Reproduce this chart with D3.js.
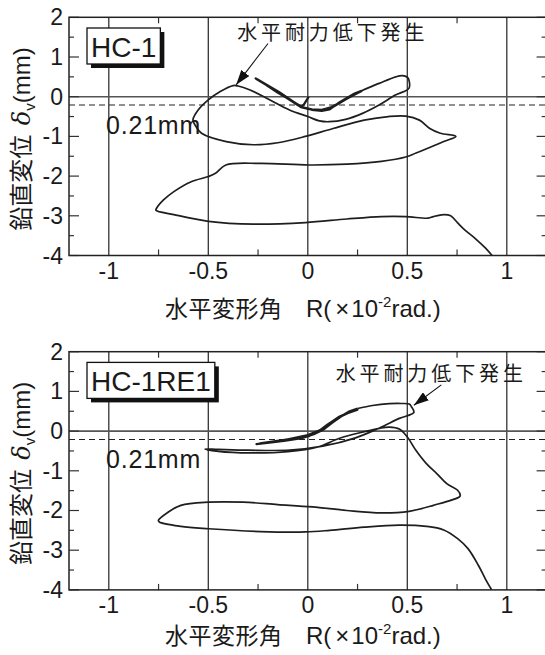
<!DOCTYPE html>
<meta charset="utf-8">
<script src="https://d3js.org/d3.v7.min.js"></script>
<style>
  body { margin: 0; background: #fff; }
  text { font-family: "Liberation Sans", Arial, "Noto Sans CJK JP", sans-serif; fill: #1a1a1a; }
  .jp { font-family: "Noto Sans CJK JP", "Liberation Sans", sans-serif; }
</style>
<div id="chart"></div>
<script>
// ---- data ----
var xTicks = [-1, -0.5, 0, 0.5, 1];
var xMinorTicks = [-0.75, -0.25, 0.25, 0.75];
var yTicks = [-4, -3, -2, -1, 0, 1, 2];
var yMinorTicks = [-3.5, -2.5, -1.5, -0.5, 0.5, 1.5];
var limitDisp = -0.21;

var panelNames = ["HC-1", "HC-1RE1"];

// small cycles (+-0.25) of HC-1, drawn thick
var hc1Small = [[0.005,0],[-0.02,-0.2],[-0.035,-0.26],[-0.15,0.11],[-0.262,0.46],[-0.15,0.115],
  [-0.03,-0.26],[0,-0.31],[0.05,-0.34],[0.1,-0.31],[0.16,-0.15],[0.235,0.07],[0.27,0.14],
  [0.2,-0.04],[0.13,-0.25],[0.07,-0.33],[0.02,-0.32],[-0.025,-0.27],[-0.15,0.1],[-0.25,0.43],
  [-0.145,0.12],[-0.03,-0.27],[0.02,-0.33],[0.07,-0.355],[0.11,-0.32],[0.16,-0.14],[0.235,0.08],[0.27,0.15]];

var hc1Main = [[0.27,0.15],[0.358,0.335],[0.442,0.5],[0.475,0.53],[0.5,0.49],[0.508,0.42],[0.508,0.21],
  [0.44,0.04],[0.358,-0.21],[0.275,-0.42],[0.19,-0.57],[0.108,-0.63],[0.058,-0.61],[0,-0.5],
  [-0.092,-0.335],[-0.19,-0.084],[-0.29,0.17],[-0.35,0.27],[-0.375,0.28],[-0.44,0.13],[-0.5,-0.08],
  [-0.55,-0.33],[-0.577,-0.58],[-0.567,-0.71],[-0.534,-0.92],[-0.41,-1.13],[-0.273,-1.21],
  [-0.151,-1.16],[-0.012,-1.0],[0.127,-0.8],[0.283,-0.59],[0.405,-0.5],[0.492,-0.49],[0.561,-0.59],
  [0.613,-0.8],[0.666,-0.92],[0.744,-1.0],[0.683,-1.13],[0.544,-1.42],[0.492,-1.52],[0.37,-1.63],
  [0.196,-1.7],[0.005,-1.72],[-0.238,-1.68],[-0.412,-1.72],[-0.464,-1.93],[-0.499,-2.01],
  [-0.586,-2.14],[-0.673,-2.39],[-0.725,-2.6],[-0.76,-2.81],[-0.763,-2.86],[-0.673,-2.97],
  [-0.499,-3.14],[-0.273,-3.21],[-0.012,-3.17],[0.196,-3.08],[0.37,-3.02],[0.492,-3.02],
  [0.605,-3.06],[0.631,-3.02],[0.683,-2.97],[0.718,-3.0],[0.753,-3.18],[0.787,-3.35],
  [0.839,-3.56],[0.892,-3.81],[0.926,-4.0]];

// small cycles of HC-1RE1
var re1Small = [[0.01,-0.12],[-0.04,-0.18],[-0.14,-0.26],[-0.258,-0.33],[-0.14,-0.24],[-0.04,-0.16],
  [0.02,-0.07],[0.075,0.05],[0.11,0.2],[0.16,0.37],[0.21,0.48],[0.25,0.54],[0.2,0.45],[0.15,0.33],
  [0.1,0.17],[0.06,0.02],[0,-0.1],[-0.1,-0.21],[-0.24,-0.31],[-0.12,-0.25],[-0.03,-0.18],
  [0.03,-0.08],[0.08,0.04],[0.12,0.2],[0.17,0.38],[0.21,0.5],[0.25,0.57]];

var re1Main = [[0.25,0.57],[0.325,0.645],[0.41,0.69],[0.47,0.695],[0.51,0.68],[0.52,0.62],[0.533,0.47],
  [0.46,0.32],[0.36,0.08],[0.24,-0.17],[0.075,-0.38],[-0.09,-0.48],[-0.3,-0.48],[-0.45,-0.46],
  [-0.517,-0.45],[-0.45,-0.51],[-0.29,-0.55],[-0.1,-0.52],[0.05,-0.4],[0.16,-0.18],[0.28,-0.02],
  [0.36,0.07],[0.41,0.1],[0.46,0.05],[0.5,-0.15],[0.544,-0.49],[0.596,-0.82],[0.648,-1.07],
  [0.7,-1.33],[0.753,-1.49],[0.766,-1.62],[0.761,-1.66],[0.631,-1.87],[0.509,-2.02],[0.37,-2.06],
  [0.196,-2.0],[0.023,-1.91],[-0.151,-1.85],[-0.325,-1.79],[-0.499,-1.79],[-0.638,-1.87],
  [-0.707,-2.06],[-0.751,-2.25],[-0.746,-2.29],[-0.638,-2.4],[-0.499,-2.46],[-0.238,-2.53],
  [-0.012,-2.54],[0.11,-2.5],[0.283,-2.42],[0.457,-2.37],[0.596,-2.4],[0.683,-2.49],[0.753,-2.71],
  [0.805,-2.96],[0.857,-3.38],[0.892,-3.72],[0.923,-3.99]];

// "水平耐力低下発生" arrows: [start, tip] in data units
var hc1Arrow = [[-0.2, 1.34], [-0.36, 0.3]];
var re1Arrow = [[0.671, 1.165], [0.533, 0.65]];
var noteText = "水平耐力低下発生";
var hc1NotePos = [-0.355, 1.42];
var re1NotePos = [0.14, 1.26];

// ---- drawing ----
var W = 545, H = 655;
var svg = d3.select("#chart").append("svg")
    .attr("width", W).attr("height", H);

var defs = svg.append("defs");
defs.append("marker")
    .attr("id", "head")
    .attr("markerUnits", "userSpaceOnUse")
    .attr("markerWidth", 16).attr("markerHeight", 10)
    .attr("refX", 15).attr("refY", 5)
    .attr("orient", "auto")
  .append("path")
    .attr("d", "M0,0 L15,5 L0,10 Z")
    .attr("fill", "#111");

var x = d3.scaleLinear().domain([-1.2, 1.2]).range([69, 546.6]);

function drawPanel(top, name, small, main, arrow, notePos, titleY, idx) {
  var y = d3.scaleLinear().domain([-4, 2]).range([255.5, 17.3]);
  var g = svg.append("g").attr("transform", "translate(0," + top + ")");
  var x0 = x.range()[0], x1 = x.range()[1], y0 = y.range()[0], y1 = y.range()[1];

  defs.append("clipPath").attr("id", "clip" + idx)
    .append("rect").attr("x", x0).attr("y", y1).attr("width", x1 - x0).attr("height", y0 - y1);

  // vertical grid
  g.selectAll(".grid").data(xTicks).enter().append("line")
      .attr("x1", d => x(d)).attr("x2", d => x(d))
      .attr("y1", y1).attr("y2", y0)
      .attr("stroke", "#333").attr("stroke-width", 1.3);

  // zero line and 0.21mm line
  g.append("line").attr("x1", x0).attr("x2", x1)
      .attr("y1", y(0)).attr("y2", y(0))
      .attr("stroke", "#555").attr("stroke-width", 1.6);
  g.append("line").attr("x1", x0).attr("x2", x1)
      .attr("y1", y(limitDisp)).attr("y2", y(limitDisp))
      .attr("stroke", "#222").attr("stroke-width", 1.1)
      .attr("stroke-dasharray", "6,4");

  // x minor ticks (top and bottom, inward)
  xMinorTicks.forEach(function(t) {
    g.append("line").attr("x1", x(t)).attr("x2", x(t)).attr("y1", y0).attr("y2", y0 - 6)
      .attr("stroke", "#333").attr("stroke-width", 1.2);
    g.append("line").attr("x1", x(t)).attr("x2", x(t)).attr("y1", y1).attr("y2", y1 + 6)
      .attr("stroke", "#333").attr("stroke-width", 1.2);
  });
  // y ticks (left and right, inward)
  yTicks.concat(yMinorTicks).forEach(function(t) {
    var len = yTicks.indexOf(t) >= 0 ? 10 : 5;
    g.append("line").attr("x1", x0).attr("x2", x0 + len).attr("y1", y(t)).attr("y2", y(t))
      .attr("stroke", "#333").attr("stroke-width", 1.2);
    g.append("line").attr("x1", x1).attr("x2", x1 - len).attr("y1", y(t)).attr("y2", y(t))
      .attr("stroke", "#333").attr("stroke-width", 1.2);
  });

  // frame
  g.append("rect").attr("x", x0).attr("y", y1).attr("width", x1 - x0).attr("height", y0 - y1)
      .attr("fill", "none").attr("stroke", "#222").attr("stroke-width", 1.5);

  // tick labels
  g.selectAll(".yl").data(yTicks).enter().append("text")
      .attr("x", 63).attr("y", d => y(d) + 8)
      .attr("text-anchor", "end").style("font-size", "23px")
      .text(d => d);
  g.selectAll(".xl").data(xTicks).enter().append("text")
      .attr("x", d => x(d)).attr("y", 279)
      .attr("text-anchor", "middle").style("font-size", "23px")
      .text(d => d);

  // axis titles
  var xt = g.append("text").attr("x", 165).attr("y", titleY).style("font-size", "24px");
  xt.append("tspan").attr("class", "jp").style("font-size", "23px").style("letter-spacing", "0.5px").text("水平変形角\u3000");
  xt.append("tspan").text("R(");
  xt.append("tspan").attr("dx", 4).text("×");
  xt.append("tspan").attr("dx", 2).text("10");
  xt.append("tspan").attr("dy", -10).style("font-size", "15px").text("-2");
  xt.append("tspan").attr("dy", 10).text("rad.)");

  var yt = g.append("text")
      .attr("transform", "translate(30,139) rotate(-90)")
      .attr("text-anchor", "middle").style("font-size", "24px");
  yt.append("tspan").attr("class", "jp").text("鉛直変位 ");
  yt.append("tspan").attr("dx", 4).style("font-family", "'DejaVu Serif', serif").style("font-style", "italic").text("δ");
  yt.append("tspan").attr("dy", 5).style("font-size", "15px").text("v");
  yt.append("tspan").attr("dy", -5).text("(mm)");

  // curves
  var line = d3.line().x(d => x(d[0])).y(d => y(d[1]));
  var smooth = d3.line().x(d => x(d[0])).y(d => y(d[1])).curve(d3.curveCatmullRom.alpha(0.5));
  var cg = g.append("g").attr("clip-path", "url(#clip" + idx + ")");
  cg.append("path").datum(main).attr("d", smooth)
      .attr("fill", "none").attr("stroke", "#1e1e1e").attr("stroke-width", 1.7)
      .attr("stroke-linejoin", "round");
  cg.append("path").datum(small).attr("d", line)
      .attr("fill", "none").attr("stroke", "#1e1e1e").attr("stroke-width", 2.2)
      .attr("stroke-linejoin", "round");

  // 0.21mm label
  g.append("text").attr("x", 106).attr("y", y(limitDisp) + 29)
      .style("font-size", "25px").style("letter-spacing", "0.8px").text("0.21mm");

  // specimen name box with shadow
  var label = g.append("text").attr("x", 91).attr("y", 57)
      .style("font-size", "28px").text(name);
  var tw = label.node().getComputedTextLength();
  g.append("rect").attr("x", 91).attr("y", 32).attr("width", tw + 8).attr("height", 36)
      .attr("fill", "#111");
  g.append("rect").attr("x", 87).attr("y", 28).attr("width", tw + 8).attr("height", 36)
      .attr("fill", "#fff").attr("stroke", "#111").attr("stroke-width", 1.3);
  label.raise();

  // annotation
  g.append("text").attr("class", "jp")
      .attr("x", x(notePos[0])).attr("y", y(notePos[1]))
      .style("font-size", "20px").style("letter-spacing", "3.9px")
      .text(noteText);
  g.append("line")
      .attr("x1", x(arrow[0][0])).attr("y1", y(arrow[0][1]))
      .attr("x2", x(arrow[1][0])).attr("y2", y(arrow[1][1]))
      .attr("stroke", "#111").attr("stroke-width", 1.1)
      .attr("marker-end", "url(#head)");
}

drawPanel(0, panelNames[0], hc1Small, hc1Main, hc1Arrow, hc1NotePos, 317, 0);
drawPanel(334.4, panelNames[1], re1Small, re1Main, re1Arrow, re1NotePos, 310, 1);
</script>
